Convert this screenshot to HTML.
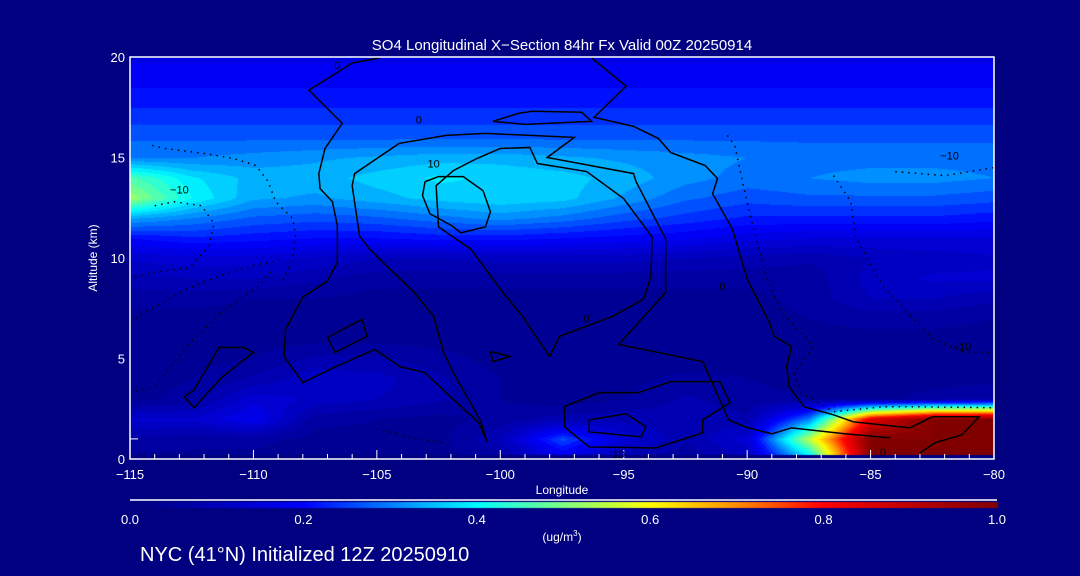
<!DOCTYPE html>
<html><head><meta charset="utf-8">
<style>
html,body{margin:0;padding:0;background:#000080;}
#wrap{position:relative;width:1080px;height:576px;background:#000080;overflow:hidden;font-family:"Liberation Sans",sans-serif;color:#fff;}
canvas,svg{position:absolute;left:0;top:0;}
</style></head>
<body>
<div id="wrap">
<canvas id="fill" width="1080" height="576"></canvas>
<svg id="ov" width="1080" height="576"></svg>
</div>
<script>
const lons=[-115,-112.5,-110,-107.5,-105,-102.5,-100,-97.5,-95,-92.5,-90,-87.5,-85,-82.5,-80];
const alts=[0,1,2,3,4,5,6,7,8,9,10,11,12,13,14,15,16,17,18,19,20];
const so4=[
[0.04,0.04,0.04,0.03,0.03,0.04,0.06,0.15,0.08,0.05,0.10,0.35,1.0,1.0,1.0],
[0.07,0.06,0.06,0.04,0.04,0.04,0.10,0.26,0.14,0.08,0.14,0.55,1.0,1.0,1.0],
[0.13,0.13,0.18,0.06,0.05,0.04,0.06,0.09,0.09,0.09,0.08,0.30,0.85,1.0,1.0],
[0.04,0.06,0.14,0.12,0.10,0.08,0.05,0.03,0.05,0.08,0.06,0.05,0.04,0.06,0.08],
[0.04,0.05,0.08,0.12,0.11,0.08,0.05,0.03,0.04,0.06,0.05,0.04,0.04,0.04,0.04],
[0.04,0.04,0.05,0.08,0.08,0.06,0.04,0.03,0.03,0.03,0.04,0.04,0.04,0.04,0.04],
[0.04,0.04,0.04,0.04,0.04,0.04,0.04,0.04,0.04,0.04,0.04,0.04,0.04,0.04,0.04],
[0.04,0.04,0.04,0.04,0.04,0.04,0.04,0.04,0.04,0.04,0.04,0.05,0.06,0.06,0.05],
[0.06,0.06,0.05,0.05,0.04,0.04,0.04,0.04,0.04,0.04,0.04,0.06,0.10,0.10,0.08],
[0.09,0.10,0.10,0.08,0.06,0.06,0.06,0.06,0.06,0.06,0.06,0.06,0.11,0.13,0.13],
[0.13,0.14,0.14,0.12,0.10,0.10,0.11,0.11,0.11,0.10,0.09,0.08,0.10,0.11,0.12],
[0.20,0.22,0.21,0.20,0.20,0.21,0.21,0.20,0.19,0.18,0.16,0.15,0.15,0.15,0.15],
[0.33,0.30,0.27,0.26,0.27,0.29,0.31,0.29,0.26,0.24,0.22,0.22,0.22,0.22,0.21],
[0.52,0.40,0.33,0.32,0.34,0.36,0.37,0.36,0.32,0.28,0.26,0.27,0.27,0.27,0.26],
[0.46,0.38,0.34,0.34,0.36,0.38,0.37,0.36,0.34,0.31,0.29,0.30,0.31,0.31,0.30],
[0.30,0.30,0.31,0.32,0.33,0.34,0.34,0.33,0.32,0.31,0.30,0.29,0.29,0.29,0.29],
[0.27,0.27,0.27,0.27,0.27,0.27,0.27,0.27,0.27,0.27,0.27,0.27,0.27,0.27,0.27],
[0.24,0.24,0.24,0.24,0.24,0.24,0.24,0.24,0.24,0.24,0.24,0.24,0.24,0.24,0.24],
[0.21,0.21,0.21,0.21,0.21,0.21,0.21,0.21,0.21,0.21,0.21,0.21,0.21,0.21,0.21],
[0.19,0.19,0.19,0.19,0.19,0.19,0.19,0.19,0.19,0.19,0.19,0.19,0.19,0.19,0.19],
[0.17,0.17,0.17,0.17,0.17,0.17,0.17,0.17,0.17,0.17,0.17,0.17,0.17,0.17,0.17]];
const xTicks=[-115,-110,-105,-100,-95,-90,-85,-80];
const yTicks=[0,5,10,15,20];
const cbTicks=[0.0,0.2,0.4,0.6,0.8,1.0];
const solidContours=[
[[-104.9,19.95],[-106.0,19.7],[-107.75,18.35],[-106.4,16.7],[-107.1,15.45],[-107.35,14.2],[-107.3,13.45],[-106.8,12.8],[-106.6,11.6],[-106.6,9.8],[-107.0,8.85],[-108.0,8.05],[-108.7,6.45],[-108.76,5.1],[-108.0,3.8],[-106.66,4.6],[-105.08,5.45],[-104.07,4.6],[-103.05,4.3],[-102.2,3.3],[-100.87,1.8],[-100.54,0.85]],
[[-100.54,0.85],[-100.8,1.9],[-101.9,4.3],[-102.3,5.3],[-102.7,7.1],[-103.5,8.3],[-104.6,9.6],[-105.3,10.45],[-105.7,11.1],[-106.0,13.6],[-105.9,14.2],[-105.0,14.95],[-104.1,15.7],[-102.2,16.1],[-100.6,16.2],[-97.0,16.0],[-98.1,15.0],[-94.6,14.2],[-94.5,13.8],[-93.3,10.95],[-93.3,8.3],[-95.2,5.7],[-91.8,4.85],[-90.75,1.95],[-90.1,1.6],[-89.0,1.25],[-88.2,1.55],[-86.0,1.25],[-84.2,1.05]],
[[-98.5,14.7],[-98.8,15.5],[-100.0,15.45],[-100.95,14.95],[-101.9,14.35],[-102.6,13.6],[-102.5,11.55],[-101.8,10.95],[-101.2,10.45],[-99.9,8.3],[-99.1,7.1],[-98.0,5.1],[-97.6,6.1],[-95.45,7.1],[-94.2,7.95],[-93.9,9.05],[-93.85,11.05],[-95.0,12.95],[-96.5,14.3],[-98.5,14.7]],
[[-103.05,13.8],[-102.5,14.05],[-101.5,14.05],[-100.7,13.35],[-100.4,12.3],[-100.6,11.55],[-101.6,11.25],[-101.95,11.6],[-102.85,12.2],[-103.15,13.1],[-103.05,13.8]],
[[-100.3,16.8],[-99.25,17.2],[-98.7,17.3],[-96.7,17.25],[-96.3,16.8],[-99.0,16.65],[-100.3,16.8]],
[[-96.3,19.95],[-94.9,18.55],[-96.2,17.0],[-94.6,16.55],[-93.6,15.95],[-93.1,15.25],[-91.7,14.6],[-91.2,13.95],[-91.4,13.2],[-90.6,11.45],[-90.0,8.95],[-89.1,6.8],[-88.9,6.1],[-88.2,5.6],[-88.4,4.6],[-88.3,3.6],[-87.7,2.6],[-86.5,2.2],[-85.7,1.85],[-83.4,1.55],[-82.5,2.1],[-80.6,2.1],[-81.3,1.2],[-82.4,0.8],[-83.0,0.3]],
[[-97.4,2.6],[-96.0,3.3],[-94.4,3.3],[-93.1,3.85],[-91.1,3.85],[-90.7,2.8],[-91.8,1.95],[-91.8,1.3],[-93.7,0.55],[-96.4,0.6],[-97.4,1.6],[-97.4,2.6]],
[[-96.4,1.95],[-94.9,2.25],[-94.1,1.6],[-94.3,1.1],[-96.4,1.35],[-96.4,1.95]],
[[-107.0,6.05],[-105.6,6.95],[-105.4,6.1],[-106.7,5.3],[-107.0,6.05]],
[[-112.8,3.1],[-112.4,3.45],[-111.4,5.55],[-110.4,5.55],[-110.0,5.3],[-111.3,4.05],[-112.4,2.55],[-112.8,3.1]],
[[-100.4,5.35],[-99.6,5.1],[-100.3,4.85],[-100.4,5.35]]
];
const dottedContours=[
[[-114.1,15.6],[-113.6,15.45],[-112.0,15.2],[-110.8,14.95],[-109.9,14.6],[-109.4,13.8],[-109.1,12.8],[-108.4,11.95],[-108.3,11.1],[-108.4,10.0],[-108.8,8.9]],
[[-115,6.8],[-114.2,7.45],[-112.7,8.45],[-111.4,9.1],[-110.1,9.6],[-108.7,9.95]],
[[-115,3.3],[-114.0,3.6],[-112.7,5.6],[-111.3,7.3],[-109.8,8.6],[-109.3,9.3]],
[[-114.0,12.6],[-113.2,12.8],[-112.1,12.6],[-111.6,11.7],[-111.8,10.6],[-112.6,9.5],[-114.0,9.3],[-115,9.0]],
[[-90.8,16.1],[-90.5,15.6],[-90.1,13.3],[-89.7,11.3],[-89.2,8.95],[-88.6,7.3],[-87.3,5.6],[-88.1,4.3],[-87.8,3.3],[-86.5,2.35],[-84.5,2.6],[-83.1,2.6],[-80,2.55]],
[[-84.0,14.3],[-82.0,14.1],[-80.0,14.5]],
[[-86.5,14.1],[-85.8,12.8],[-85.6,11.0],[-84.5,8.6],[-82.5,6.0],[-81.2,5.3],[-80,5.3]],
[[-105.0,1.5],[-103.6,1.05],[-102.3,0.8]]
];
const X0=130,X1=994,Y0=57,Y1=459;
function xS(l){return X0+(l+115)/35*(X1-X0);}
function yS(a){return Y1-a/20*(Y1-Y0);}
const stops=[[0,0,0,125],[0.1,0,0,185],[0.2,0,0,255],[0.3,0,128,255],[0.4,0,255,255],[0.5,128,255,128],[0.6,255,255,0],[0.7,255,140,0],[0.8,255,0,0],[1.0,128,0,0]];
function cmap(v){v=Math.max(0,Math.min(1,v));for(let i=1;i<stops.length;i++){if(v<=stops[i][0]){const a=stops[i-1],b=stops[i],t=(v-a[0])/(b[0]-a[0]);return [a[1]+(b[1]-a[1])*t,a[2]+(b[2]-a[2])*t,a[3]+(b[3]-a[3])*t];}}return [128,0,0];}
const cv=document.getElementById('fill'),ctx=cv.getContext('2d');
ctx.fillStyle='#000080';ctx.fillRect(0,0,1080,576);
const fy0=Math.round(yS(20)),fy1=Math.round(yS(0.2));
const w=X1-X0,h=fy1-fy0;const img=ctx.createImageData(w,h);
for(let py=0;py<h;py++){const a=(Y1-(fy0+py))/(Y1-Y0)*20;let r=Math.min(19,Math.max(0,Math.floor(a)));let tr=Math.max(0,Math.min(1,a-r));
for(let px=0;px<w;px++){const l=(px/w)*35;let c=Math.min(13,Math.floor(l/2.5));let tc=(l-c*2.5)/2.5;
const v=(so4[r][c]*(1-tc)+so4[r][c+1]*tc)*(1-tr)+(so4[r+1][c]*(1-tc)+so4[r+1][c+1]*tc)*tr;
const q=Math.floor(v*40)/40+0.0125;const col=cmap(q);const k=(py*w+px)*4;img.data[k]=col[0];img.data[k+1]=col[1];img.data[k+2]=col[2];img.data[k+3]=255;}}
ctx.putImageData(img,X0,fy0);
for(let x=130;x<=997;x++){const c=cmap((x-130)/867);ctx.fillStyle=`rgb(${c[0]|0},${c[1]|0},${c[2]|0})`;ctx.fillRect(x,502,1,6);}
const NS='http://www.w3.org/2000/svg';const sv=document.getElementById('ov');
function mk(t,at,parent){const e=document.createElementNS(NS,t);for(const k in at)e.setAttribute(k,at[k]);(parent||sv).appendChild(e);return e;}
function txt(x,y,s,size,anchor,name){const e=mk('text',{x:x,y:y,'font-size':size,fill:'#fff','text-anchor':anchor||'middle','font-family':'Liberation Sans, sans-serif'});e.textContent=s;


return e;}
const defs=mk('defs',{});const cp0=mk('clipPath',{id:'pc'},defs);mk('rect',{x:X0,y:Y0,width:X1-X0,height:Y1-Y0},cp0);
const g=mk('g',{'clip-path':'url(#pc)'});


solidContours.forEach((c,i)=>{const p=mk('polyline',{points:c.map(d=>xS(d[0])+','+yS(d[1])).join(' '),fill:'none',stroke:'#000','stroke-width':1.5},g);

});
dottedContours.forEach((c,i)=>{const p=mk('polyline',{points:c.map(d=>xS(d[0])+','+yS(d[1])).join(' '),fill:'none',stroke:'#000','stroke-width':1.5,'stroke-dasharray':'1.5 5'},g);

});
const ax=mk('path',{d:`M${X0},${Y0}H${X1}V${Y1}H${X0}Z`,fill:'none',stroke:'#fff','stroke-width':1.5});


for(let l=-115;l<=-80;l++){const major=(l%5===0);const t=mk('line',{x1:xS(l),x2:xS(l),y1:Y1,y2:Y1-(major?9:5),stroke:'#fff','stroke-width':1});

}
xTicks.forEach(l=>txt(xS(l),479,(l<0?'\u2212':'')+Math.abs(l),13,'middle','x-tick-label'));
yTicks.forEach(a=>txt(125,yS(a)+5,String(a),13,'end','y-tick-label'));
const t0=mk('line',{x1:X0,x2:X0+8,y1:yS(1),y2:yS(1),stroke:'#fff','stroke-width':1});


txt(562,50,'SO4 Longitudinal X\u2212Section 84hr  Fx Valid 00Z 20250914',15,'middle','chart-title');
txt(562,494,'Longitude',12,'middle','x-axis-title');
const yt=txt(0,0,'Altitude (km)',12,'middle','y-axis-title');yt.setAttribute('transform','translate(97,258) rotate(-90)');
const cl=mk('line',{x1:130,x2:997,y1:500,y2:500,stroke:'#fff','stroke-width':1.5});


cbTicks.forEach(v=>txt(130+v*867,524,v.toFixed(1),13,'middle','colorbar-label'));
const u=txt(562,541,'(ug/m',12,'middle','colorbar-units');const sup=mk('tspan',{dy:-5,'font-size':8},u);sup.textContent='3';const cpx=mk('tspan',{dy:5},u);cpx.textContent=')';
txt(140,561,'NYC (41\u00b0N) Initialized 12Z 20250910',20,'start','footer-text');
const labels=[[-106.6,19.6,'0'],[-103.3,16.9,'0'],[-102.7,14.7,'10'],[-113.0,13.4,'\u221210'],[-81.8,15.1,'\u221210'],[-91.0,8.6,'0'],[-96.5,7.0,'0'],[-84.5,0.35,'0'],[-95.2,0.25,'10'],[-81.3,5.6,'\u221210']];
labels.forEach(d=>{const e=txt(xS(d[0]),yS(d[1])+4,d[2],11,'middle','contour-label');e.setAttribute('fill','#000');});
</script>
</body></html>
